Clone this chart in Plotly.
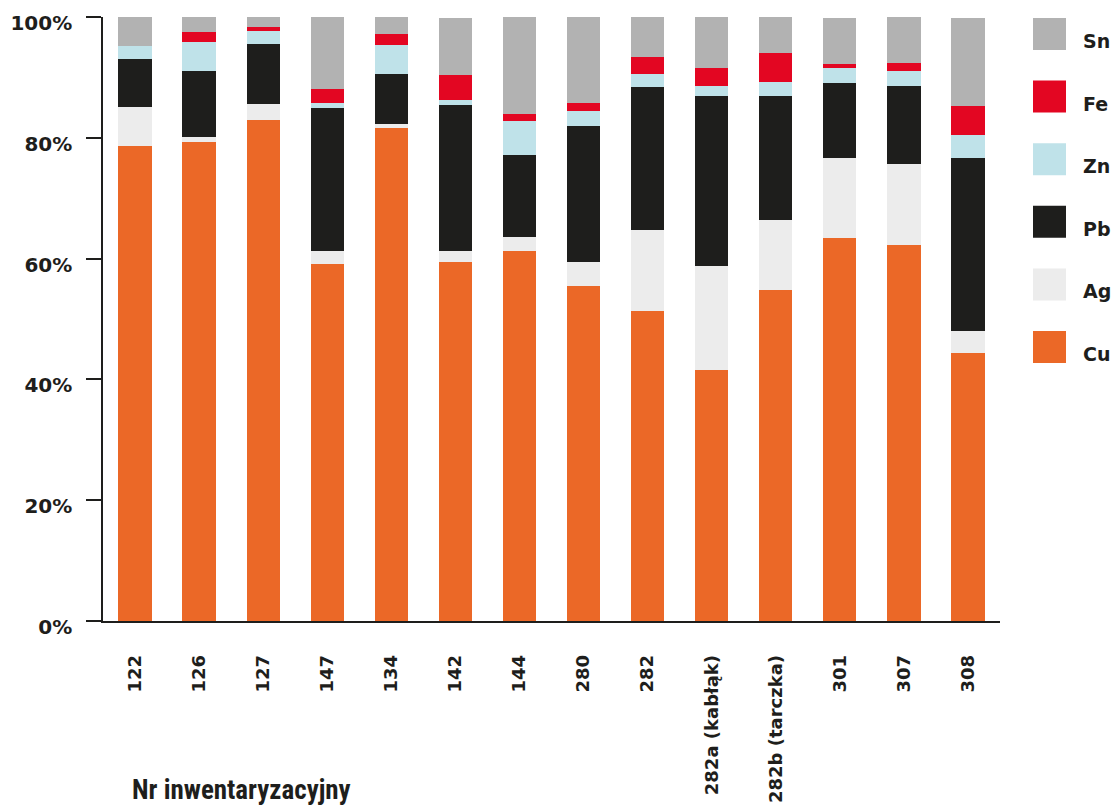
import plotly.graph_objects as go

items = ["122", "126", "127", "147", "134", "142", "144", "280", "282",
         "282a (kabłąk)", "282b (tarczka)", "301", "307", "308"]
Cu = [78.6, 79.3, 82.9, 59.1, 81.6, 59.4, 61.3, 55.5, 51.3, 41.6, 54.8, 63.4, 62.3, 44.4]
Ag = [6.5, 0.8, 2.7, 2.2, 0.7, 1.8, 2.2, 4.0, 13.4, 17.1, 11.6, 13.2, 13.4, 3.6]
Pb = [7.9, 10.9, 9.9, 23.7, 8.3, 24.3, 13.7, 22.5, 23.7, 28.3, 20.5, 12.4, 12.9, 28.6]
Zn = [2.2, 4.8, 2.2, 0.8, 4.8, 0.8, 5.5, 2.5, 2.2, 1.5, 2.3, 2.5, 2.5, 3.8]
Fe = [0.0, 1.7, 0.7, 2.2, 1.8, 4.1, 1.2, 1.2, 2.7, 3.0, 4.8, 0.8, 1.3, 4.8]
Sn = [4.8, 2.5, 1.7, 12.1, 2.8, 9.4, 16.2, 14.4, 6.8, 8.6, 6.0, 7.6, 7.6, 14.7]

series_names = ["Cu", "Ag", "Pb", "Zn", "Fe", "Sn"]
series_values = [Cu, Ag, Pb, Zn, Fe, Sn]
series_colors = ["#eb6827", "#ececec", "#1e1e1c", "#bfe2e9", "#e30622", "#b2b2b2"]

y_ticks = [0, 20, 40, 60, 80, 100]
y_ticktext = [f"{v}%" for v in y_ticks]
x_title = "Nr inwentaryzacyjny"

TXT = "#1e1e1c"
FONT = "DejaVu Sans"

fig = go.Figure()
for name, vals, col in zip(series_names, series_values, series_colors):
    fig.add_trace(go.Bar(x=items, y=vals, name=name, marker_color=col,
                         marker_line_width=0, showlegend=False))

fig.update_layout(
    barmode="stack",
    bargap=0.48,
    width=1114, height=810,
    margin=dict(l=103, r=114, t=17, b=189, autoexpand=False),
    plot_bgcolor="white", paper_bgcolor="white",
    font=dict(family=FONT, color=TXT),
)
fig.update_yaxes(range=[0, 100], tickvals=y_ticks, ticktext=y_ticktext,
                 automargin=False,
                 showgrid=False, zeroline=False, showline=True,
                 linecolor=TXT, linewidth=1.5, ticks="outside", ticklen=15,
                 tickcolor=TXT, tickwidth=1.5, ticklabelstandoff=10,
                 ticklabelshift=6,
                 tickfont=dict(family=FONT, size=20, weight="bold", color=TXT))
fig.update_xaxes(automargin=False, showgrid=False, zeroline=False, showline=True,
                 linecolor=TXT, linewidth=1.5, ticks="", tickangle=-90,
                 ticklabelstandoff=25,
                 tickfont=dict(family=FONT, size=18, weight="bold", color=TXT))

# legend drawn manually (top to bottom: reversed stack order)
for i, (name, col) in enumerate(zip(series_names[::-1], series_colors[::-1])):
    top = i * 62.6 + 1
    fig.add_shape(type="rect", xref="paper", yref="paper",
                  xsizemode="pixel", ysizemode="pixel",
                  xanchor=1, yanchor=1,
                  x0=33, x1=66, y0=-top, y1=-(top + 32),
                  fillcolor=col, line_width=0)
    fig.add_annotation(xref="paper", yref="paper", x=1, y=1,
                       xshift=81, yshift=-(top + 23), xanchor="left",
                       yanchor="middle", showarrow=False, text=name,
                       font=dict(family=FONT, size=19, weight="bold", color=TXT))

fig.add_annotation(xref="paper", yref="paper", x=0, y=0, xshift=27, yshift=-169,
                   xanchor="left", yanchor="middle", showarrow=False,
                   text=x_title,
                   font=dict(family="Liberation Sans Narrow, Roboto Condensed, sans-serif",
                             size=27, weight="bold", color=TXT))

fig.write_html("out.html",
               config={"displayModeBar": False},
               post_script="document.body.style.margin='0px';"
                           "document.body.style.overflow='hidden';")
